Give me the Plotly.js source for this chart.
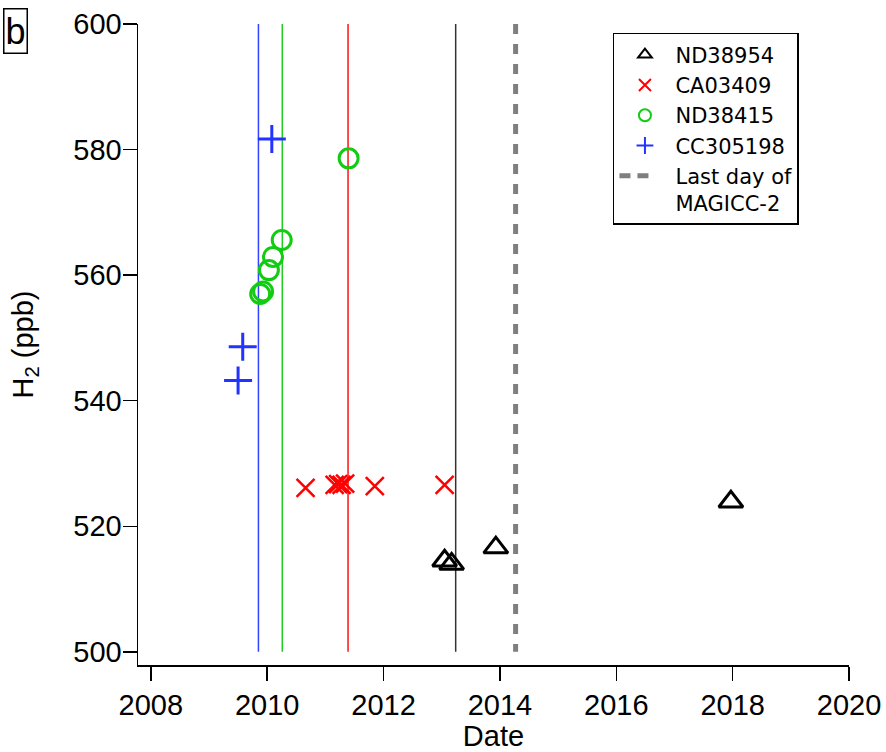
<!DOCTYPE html>
<html>
<head>
<meta charset="utf-8">
<script src="https://cdn.plot.ly/plotly-3.0.1.min.js"></script>
<style>
  html, body { margin: 0; padding: 0; background: #fff; }
  #chart { width: 886px; height: 752px; }
</style>
</head>
<body>
<div id="chart"></div>
<script>
// ---- data (decimal year, H2 in ppb) ----
const nd38954Date = [2013.05, 2013.17, 2013.93, 2017.97];
const nd38954H2   = [514.5, 514.0, 516.6, 523.9];

const ca03409Date = [2010.66, 2011.16, 2011.22, 2011.28, 2011.34, 2011.85, 2013.05];
const ca03409H2   = [526.1, 526.6, 526.7, 526.6, 526.8, 526.4, 526.6];

const nd38415Date = [2009.88, 2009.93, 2010.03, 2010.10, 2010.25, 2011.40];
const nd38415H2   = [557.0, 557.4, 560.8, 562.9, 565.6, 578.6];

const cc305198Date = [2009.50, 2009.58, 2010.08];
const cc305198H2   = [543.2, 548.6, 581.7];

const seriesNames = ['ND38954', 'CA03409', 'ND38415', 'CC305198', 'Last day of<br>MAGICC-2'];
const sampleLineDates = [2009.85, 2010.26, 2011.39, 2013.24]; // CC305198, ND38415, CA03409, ND38954
const magiccLastDay = 2014.27;
const lineSpan = [600, 500];

const xTickVals = [2008, 2010, 2012, 2014, 2016, 2018, 2020];
const yTickVals = [500, 520, 540, 560, 580, 600];

// ---- styles ----
const lineColors = ['#3344ff', '#22cc22', '#ff1111', '#333333'];
const FONT = 'Liberation Sans, Arial, Helvetica, sans-serif';
const LEGEND_FONT = 'DejaVu Sans, Liberation Sans, sans-serif';
const GRAY = '#7f7f7f';

const traces = [];
sampleLineDates.forEach((d, i) => {
  traces.push({
    x: [d, d], y: lineSpan, mode: 'lines', showlegend: false, hoverinfo: 'skip',
    line: { color: lineColors[i], width: 1.5 }
  });
});

// MAGICC-2 last day: drawn line (no legend) + legend entry
traces.push({
  x: [magiccLastDay, magiccLastDay], y: lineSpan, mode: 'lines', showlegend: false,
  line: { color: GRAY, width: 5, dash: '10px,10px' }
});
traces.push({
  x: [null], y: [null], mode: 'lines', name: seriesNames[4], legendrank: 5,
  line: { color: GRAY, width: 5, dash: '11px,7px,11px,200px' }
});
traces.push({
  x: cc305198Date, y: cc305198H2, mode: 'markers', name: seriesNames[3], legendrank: 4,
  marker: { symbol: 'cross-thin-open', size: 20, color: '#2233ff', line: { color: '#2233ff', width: 3 } }
});
traces.push({
  x: nd38415Date, y: nd38415H2, mode: 'markers', name: seriesNames[2], legendrank: 3,
  marker: { symbol: 'circle-open', size: 19, color: '#11cc11', line: { color: '#11cc11', width: 3 } }
});
traces.push({
  x: ca03409Date, y: ca03409H2, mode: 'markers', name: seriesNames[1], legendrank: 2,
  marker: { symbol: 'x-thin-open', size: 18, color: '#ff0000', line: { color: '#ff0000', width: 2.5 } }
});
traces.push({
  x: nd38954Date, y: nd38954H2, mode: 'markers', name: seriesNames[0], legendrank: 1,
  marker: { symbol: 'triangle-up-open', size: 21, color: '#000000', line: { color: '#000000', width: 3 } }
});

const layout = {
  width: 886, height: 752,
  margin: { l: 138, r: 37, t: 24, b: 87 },
  paper_bgcolor: '#fff', plot_bgcolor: '#fff',
  font: { family: FONT, color: '#000', size: 29 },
  showlegend: true,
  legend: {
    x: 0.668, y: 0.986, xanchor: 'left', yanchor: 'top',
    bordercolor: '#000', borderwidth: 1.5, bgcolor: '#fff',
    font: { family: LEGEND_FONT, size: 21, color: '#000' },
    itemsizing: 'constant', valign: 'top', itemwidth: 51,
    traceorder: 'normal'
  },
  xaxis: {
    range: [2007.78, 2020], tickvals: xTickVals, ticktext: xTickVals.map(String),
    showline: true, linecolor: '#000', linewidth: 1.5, mirror: false,
    ticks: 'outside', ticklen: 14, tickwidth: 1.5, tickcolor: '#000',
    showgrid: false, zeroline: false, automargin: false,
    tickfont: { family: FONT, size: 29 },
    title: { text: 'Date', font: { family: FONT, size: 29 }, standoff: 2 }
  },
  yaxis: {
    range: [497.9, 600], tickvals: yTickVals, ticktext: yTickVals.map(String),
    showline: true, linecolor: '#000', linewidth: 1.5, mirror: false,
    ticks: 'outside', ticklen: 14, tickwidth: 1.5, tickcolor: '#000',
    showgrid: false, zeroline: false, automargin: false,
    ticklabelstandoff: -5,
    tickfont: { family: FONT, size: 29 },
    title: { text: 'H<sub>2</sub> (ppb)', font: { family: FONT, size: 29 }, standoff: 31 }
  },
  annotations: [{
    text: 'b', xref: 'paper', yref: 'paper', x: -0.19, y: 1.025,
    xanchor: 'left', yanchor: 'top', showarrow: false,
    font: { family: FONT, size: 36, color: '#000' },
    bordercolor: '#000', borderwidth: 1.5, borderpad: 1, bgcolor: '#fff'
  }]
};

Plotly.newPlot('chart', traces, layout, { displayModeBar: false, staticPlot: true });
</script>
</body>
</html>
